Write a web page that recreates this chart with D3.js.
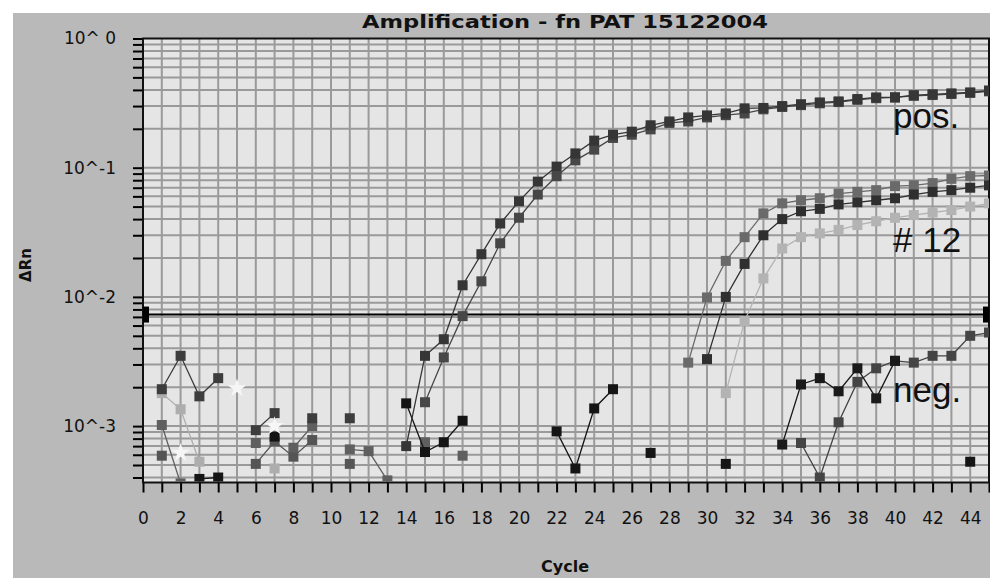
<!DOCTYPE html>
<html>
<head>
<meta charset="utf-8">
<script src="https://cdn.jsdelivr.net/npm/d3@7"></script>
<style>
  body { margin: 0; background: #fff; }
  svg { display: block; }
</style>
</head>
<body>
<div class="chart"></div>
<script>
// axis ticks
const xTicks = d3.range(0, 46);
const xLabels = d3.range(0, 45, 2);
const yMajor = [1, 0.1, 0.01, 0.001];
const yLabels = ["10^ 0", "10^-1", "10^-2", "10^-3"];
const threshold = 0.0073;

// amplification curves (first cycle + one value per cycle, null = no point)
const posAStart = 14;
const posA = [0.0007, 0.0035, 0.0047, 0.0123, 0.0214, 0.037, 0.055, 0.078, 0.102, 0.129, 0.162, 0.18,
  0.19, 0.213, 0.228, 0.245, 0.254, 0.263, 0.288, 0.29, 0.30, 0.31, 0.32, 0.326, 0.34, 0.35, 0.35,
  0.364, 0.37, 0.376, 0.382, 0.396];
const posBStart = 15;
const posB = [0.00153, 0.0034, 0.0071, 0.0132, 0.026, 0.041, 0.062, 0.086, 0.114, 0.138, 0.17,
  0.18, 0.198, 0.222, 0.228, 0.245, 0.255, 0.263, 0.283, 0.295, 0.305, 0.315, 0.322, 0.335, 0.345,
  0.35, 0.36, 0.365, 0.372, 0.38, 0.39];
const s12aStart = 29;
const s12a = [0.0031, 0.0099, 0.019, 0.029, 0.0443, 0.053, 0.056, 0.058, 0.063, 0.065, 0.067, 0.072,
  0.073, 0.076, 0.082, 0.086, 0.087];
const s12bStart = 30;
const s12b = [0.0033, 0.010, 0.018, 0.030, 0.040, 0.046, 0.048, 0.052, 0.054, 0.056, 0.058, 0.062,
  0.065, 0.067, 0.070, 0.073];
const s12cStart = 31;
const s12c = [0.0018, 0.0065, 0.0139, 0.0237, 0.029, 0.031, 0.033, 0.036, 0.0385, 0.041, 0.043,
  0.045, 0.047, 0.050, 0.053];
const negAStart = 34;
const negA = [0.00072, 0.0021, 0.00235, 0.00186, 0.0028, 0.00164, 0.0032];
const negBStart = 35;
const negB = [0.00074, 0.0004, 0.00107, 0.0022, 0.0028, 0.0032, 0.0031, 0.0035, 0.0035, 0.005, 0.0053];

// background noise
const noise1Start = 1;
const noise1 = [0.00193, 0.0035, 0.0017, 0.00235, null, 0.00093, 0.00126, null, 0.00115, null, 0.00115];
const noise2Start = 1;
const noise2 = [0.0018, 0.00135, 0.00053, null, null, null, 0.00047];
const noise3Start = 1;
const noise3 = [0.00102, 0.00036, null, null, null, 0.00074, null, 0.00068, 0.001, null, 0.00066,
  0.00064, 0.00038, null, 0.00075, null, 0.00059];
const noise4Start = 1;
const noise4 = [0.00059, null, null, null, null, 0.00051, 0.00076, 0.00058, 0.00078, null, 0.00051];
const noise5Start = 3;
const noise5 = [0.00039, 0.0004, null, null, 0.00083];
const noise6Start = 14;
const noise6 = [0.0015, 0.00063, 0.00075, 0.0011];
const noise7Start = 22;
const noise7 = [0.00091, 0.00047, 0.00137, 0.00193, null, 0.00062, null, null, null, 0.00051];
const noise8Start = 44;
const noise8 = [0.00053];
const starStart = 2;
const stars = [0.00062, null, null, 0.00196, null, 0.001];

const W = 990, H = 578;
const plot = { left: 143, right: 989, top: 38.5, bottom: 482.5 };

const svg = d3.select(".chart").append("svg")
    .attr("width", W)
    .attr("height", H)
    .attr("font-family", "'DejaVu Sans', sans-serif");

svg.append("rect")
    .attr("x", 13).attr("y", 13)
    .attr("width", W - 13).attr("height", H - 13)
    .attr("fill", "#b9b9b9");

svg.append("rect")
    .attr("x", plot.left).attr("y", plot.top)
    .attr("width", plot.right - plot.left).attr("height", plot.bottom - plot.top)
    .attr("fill", "#e5e5e5");

const x = d3.scaleLinear().domain([0, 45]).range([plot.left, plot.right]);
const y = d3.scaleLog().domain([0.000366, 1]).range([plot.bottom, plot.top]);

// minor log ticks inside the domain
const yMinor = [1];
[1e-4, 1e-3, 1e-2, 1e-1].forEach(dec => {
    d3.range(1, 10).forEach(k => {
        const v = dec * k;
        if (v >= y.domain()[0] && v < 1) yMinor.push(v);
    });
});

const grid = svg.append("g").attr("stroke", "#9a9a9a").attr("stroke-width", 2);
grid.selectAll(".vg")
    .data(xTicks.filter(d => d > 0 && d < 45))
    .join("line")
    .attr("x1", d => x(d)).attr("x2", d => x(d))
    .attr("y1", plot.top).attr("y2", plot.bottom);
grid.selectAll(".hg")
    .data(yMinor.filter(d => d < 1))
    .join("line")
    .attr("x1", plot.left).attr("x2", plot.right)
    .attr("y1", d => y(d)).attr("y2", d => y(d));

// axes
const yAxis = d3.axisLeft(y)
    .tickValues(yMinor)
    .tickSize(10)
    .tickPadding(17)
    .tickFormat(d => {
        const i = yMajor.findIndex(m => Math.abs(m - d) / m < 1e-6);
        return i >= 0 ? yLabels[i] : "";
    });

svg.append("g")
    .attr("transform", `translate(${plot.left},0)`)
    .call(yAxis)
    .call(g => g.select(".domain").remove())
    .call(g => g.selectAll(".tick line").attr("stroke", "#000").attr("stroke-width", 2))
    .call(g => g.selectAll(".tick text")
        .attr("fill", "#111")
        .attr("font-size", 17)
        .attr("font-family", "'DejaVu Sans', sans-serif"));

const xAxis = d3.axisBottom(x)
    .tickValues(xTicks)
    .tickSize(10)
    .tickPadding(19)
    .tickFormat(d => xLabels.includes(d) ? d : "");

svg.append("g")
    .attr("transform", `translate(0,${plot.bottom})`)
    .call(xAxis)
    .call(g => g.select(".domain").remove())
    .call(g => g.selectAll(".tick line").attr("stroke", "#000").attr("stroke-width", 2))
    .call(g => g.selectAll(".tick text")
        .attr("fill", "#111")
        .attr("font-size", 17)
        .attr("font-family", "'DejaVu Sans', sans-serif"));

// plot frame
svg.append("rect")
    .attr("x", plot.left).attr("y", plot.top)
    .attr("width", plot.right - plot.left).attr("height", plot.bottom - plot.top)
    .attr("fill", "none")
    .attr("stroke", "#111")
    .attr("stroke-width", 2);

// threshold
svg.append("line")
    .attr("x1", plot.left).attr("x2", plot.right)
    .attr("y1", y(threshold)).attr("y2", y(threshold))
    .attr("stroke", "#000")
    .attr("stroke-width", 2);
svg.selectAll(".thr")
    .data([plot.left, plot.right - 6])
    .join("rect")
    .attr("x", d => d).attr("y", y(threshold) - 8)
    .attr("width", 6).attr("height", 16)
    .attr("fill", "#000");

// series
const series = [
    { start: noise4Start, values: noise4, color: "#555555" },
    { start: noise3Start, values: noise3, color: "#5f5f5f" },
    { start: noise2Start, values: noise2, color: "#adadad" },
    { start: noise1Start, values: noise1, color: "#3d3d3d" },
    { start: noise5Start, values: noise5, color: "#151515" },
    { start: noise6Start, values: noise6, color: "#151515" },
    { start: noise7Start, values: noise7, color: "#151515" },
    { start: noise8Start, values: noise8, color: "#151515" },
    { start: negBStart, values: negB, color: "#444444" },
    { start: negAStart, values: negA, color: "#1a1a1a" },
    { start: s12cStart, values: s12c, color: "#b3b3b3" },
    { start: s12aStart, values: s12a, color: "#6a6a6a" },
    { start: s12bStart, values: s12b, color: "#2f2f2f" },
    { start: posBStart, values: posB, color: "#474747" },
    { start: posAStart, values: posA, color: "#363636" }
].map(s => ({
    color: s.color,
    points: s.values.map((v, i) => ({ cycle: s.start + i, value: v }))
}));

svg.append("clipPath").attr("id", "clip")
    .append("rect")
    .attr("x", plot.left).attr("y", plot.top)
    .attr("width", plot.right - plot.left).attr("height", plot.bottom - plot.top - 1);

const marks = svg.append("g").attr("clip-path", "url(#clip)");

const line = d3.line()
    .defined(d => d.value != null)
    .x(d => x(d.cycle))
    .y(d => y(d.value));

const sg = marks.selectAll(".series")
    .data(series)
    .join("g");

sg.append("path")
    .attr("d", d => line(d.points))
    .attr("fill", "none")
    .attr("stroke", d => d.color)
    .attr("stroke-width", 1.3);

sg.selectAll("rect")
    .data(d => d.points.filter(p => p.value != null).map(p => ({ ...p, color: d.color })))
    .join("rect")
    .attr("x", d => x(d.cycle) - 5)
    .attr("y", d => y(d.value) - 5)
    .attr("width", 10)
    .attr("height", 10)
    .attr("fill", d => d.color);

marks.selectAll(".star")
    .data(stars.map((v, i) => ({ cycle: starStart + i, value: v })).filter(d => d.value != null))
    .join("path")
    .attr("transform", d => `translate(${x(d.cycle)},${y(d.value)})`)
    .attr("d", d3.symbol(d3.symbolStar, 110))
    .attr("fill", "#f6f6f6");

// texts
svg.append("text")
    .attr("x", 565).attr("y", 28)
    .attr("text-anchor", "middle")
    .attr("font-size", 17)
    .attr("font-weight", "bold")
    .attr("fill", "#111")
    .attr("textLength", 406)
    .attr("lengthAdjust", "spacingAndGlyphs")
    .text("Amplification - fn PAT 15122004");

svg.append("text")
    .attr("transform", "translate(31,265) rotate(-90)")
    .attr("text-anchor", "middle")
    .attr("font-size", 15)
    .attr("font-weight", "bold")
    .attr("fill", "#111")
    .text("ΔRn");

svg.append("text")
    .attr("x", 565).attr("y", 572)
    .attr("text-anchor", "middle")
    .attr("font-size", 16)
    .attr("font-weight", "bold")
    .attr("fill", "#111")
    .text("Cycle");

const notes = [["pos.", 128], ["# 12", 252], ["neg.", 402]];
svg.selectAll(".note")
    .data(notes)
    .join("text")
    .attr("x", 893)
    .attr("y", d => d[1])
    .attr("font-family", "'Liberation Sans', Arial, sans-serif")
    .attr("font-size", 35)
    .attr("fill", "#111")
    .text(d => d[0]);
</script>
</body>
</html>
